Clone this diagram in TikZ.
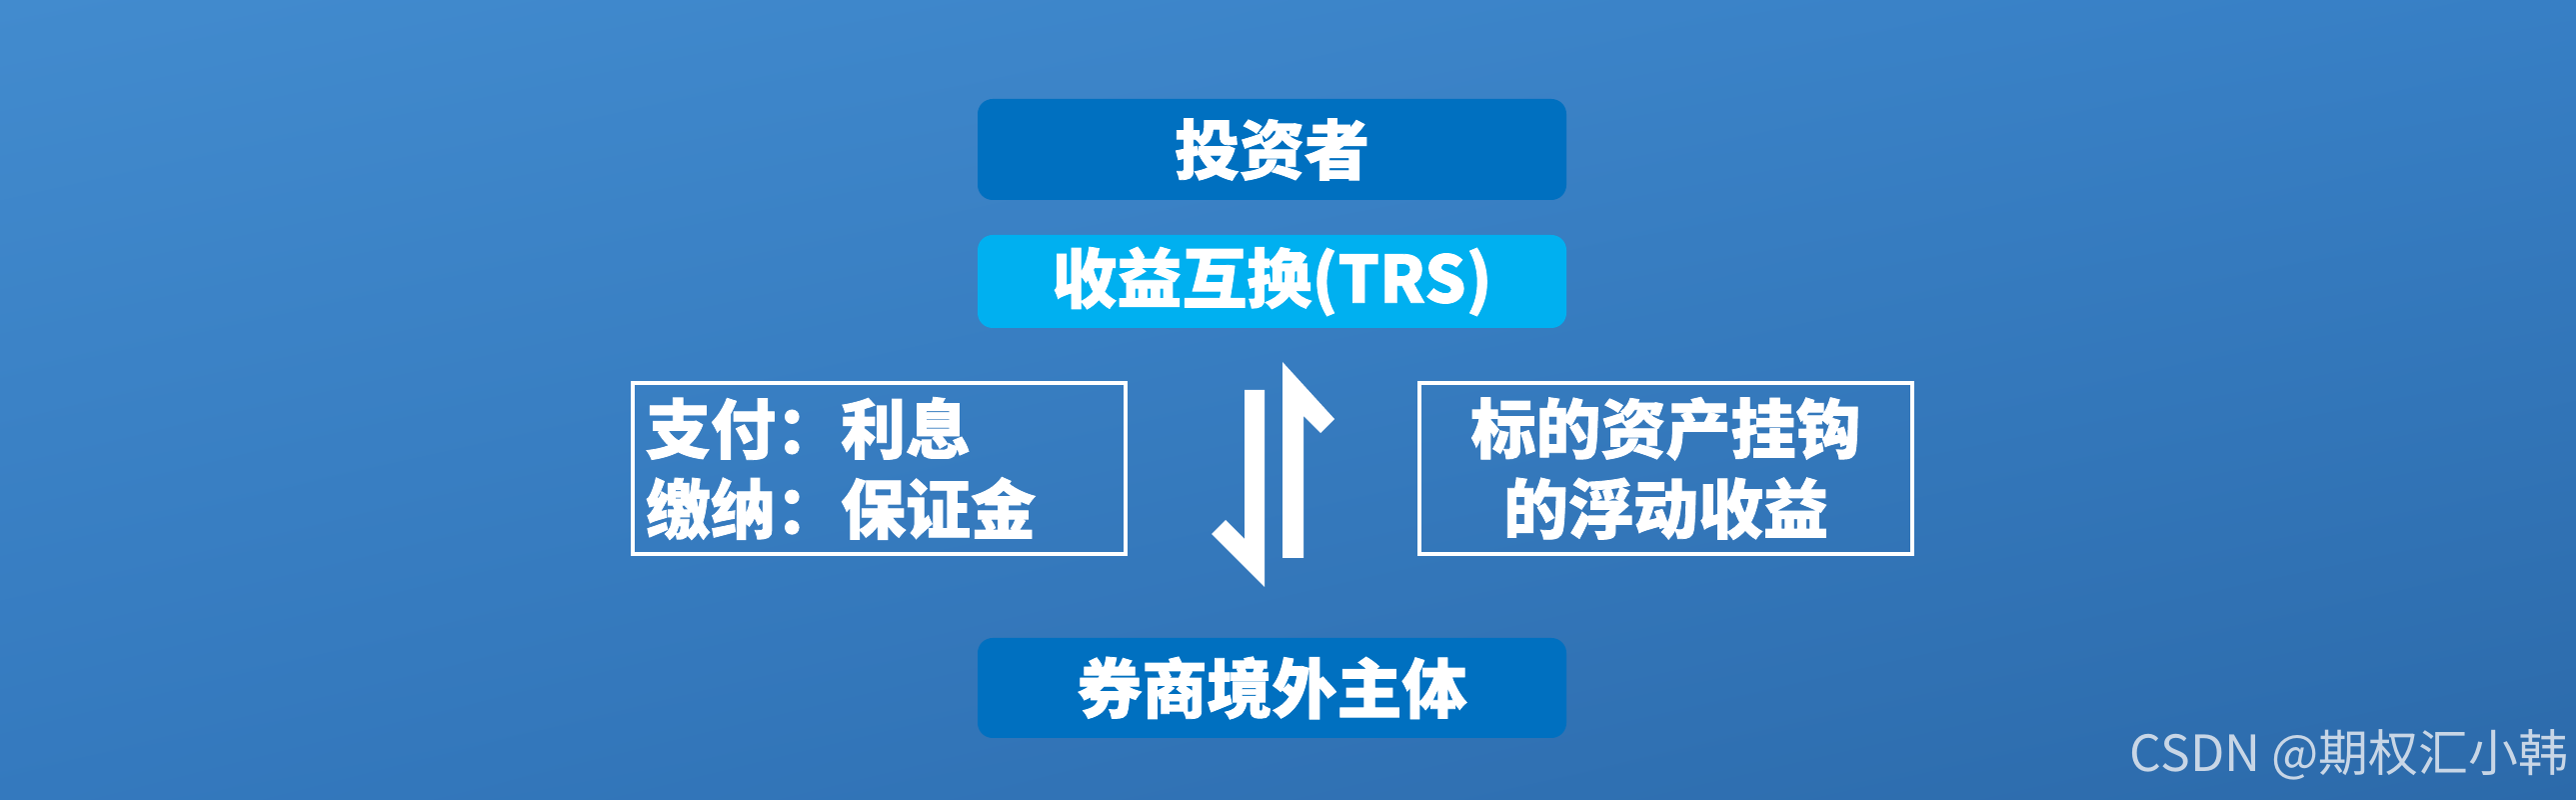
\documentclass[tikz,border=0pt]{standalone}
\usepackage{fontspec}
\usepackage{xcolor}
\usepackage{tikz}
\usetikzlibrary{shadings}
\newfontfamily\cjk{Noto Sans CJK SC}[BoldFeatures={FakeBold=1.2}]
\definecolor{bgtl}{RGB}{66,139,206}
\definecolor{bgtr}{RGB}{55,127,197}
\definecolor{bgbl}{RGB}{52,121,190}
\definecolor{bgbr}{RGB}{44,106,170}
\definecolor{darkblue}{RGB}{0,112,192}
\definecolor{lightblue}{RGB}{0,176,240}
\definecolor{wmgray}{RGB}{200,214,230}

\begin{document}
\begin{tikzpicture}[
        box/.style={rectangle, rounded corners=0.15cm, text=white, font={\cjk\bfseries\fontsize{18.5pt}{22.8pt}\selectfont}, minimum width=5.89cm, inner sep=0pt},
        textbox/.style={rectangle, draw=white, line width=1.1pt, text=white, font={\cjk\bfseries\fontsize{18.5pt}{22.8pt}\selectfont}, text width=4.67cm, inner xsep=0.13cm, inner ysep=0pt, minimum height=1.71cm}
    ]
        \shade[upper left=bgtl, upper right=bgtr, lower left=bgbl, lower right=bgbr] (0,0) rectangle (25.77,8);

        \node[box, fill=darkblue, minimum height=1.01cm] (investor) at (12.725,6.505) {投资者};
        \node[box, fill=lightblue, minimum height=0.93cm] (trs) at (12.725,5.185) {收益互换(TRS)};
        \node[box, fill=darkblue, minimum height=1.0cm] (broker) at (12.725,1.12) {券商境外主体};

        \node[textbox, align=left] (pay) at (8.795,3.315) {支付：利息\\缴纳：保证金};
        \node[textbox, align=center] (income) at (16.665,3.315) {标的资产挂钩\\的浮动收益};

        \fill[white] (12.45,4.10) -- (12.65,4.10) -- (12.65,2.13) -- (12.12,2.66) -- (12.26,2.80) -- (12.45,2.61) -- cycle;
        \fill[white] (12.83,2.42) -- (13.04,2.42) -- (13.04,3.84) -- (13.21,3.67) -- (13.35,3.81) -- (12.83,4.38) -- cycle;

        \node[anchor=east, text=wmgray, font={\cjk\fontsize{14.2pt}{17pt}\selectfont}, inner sep=0pt] (credit) at (25.70,0.45) {CSDN @期权汇小韩};
    \end{tikzpicture}
\end{document}
